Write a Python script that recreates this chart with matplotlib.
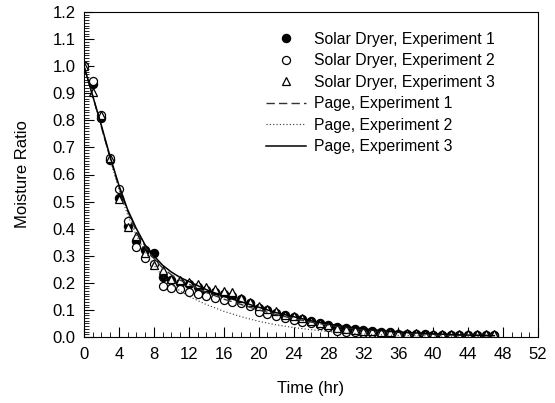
import numpy as np
import matplotlib
matplotlib.use('Agg')
import matplotlib.pyplot as plt

plt.rcParams['font.family'] = ['Liberation Sans', 'DejaVu Sans']

# measured data (hourly)
time_hr = list(range(0, 48))

mr_exp1 = [1.0, 0.935, 0.807, 0.655, 0.515, 0.41, 0.355, 0.32, 0.31, 0.223,
           0.21, 0.20, 0.195, 0.185, 0.175, 0.168, 0.16, 0.152, 0.14, 0.127,
           0.106, 0.10, 0.09, 0.082, 0.075, 0.068, 0.06, 0.052, 0.045, 0.038,
           0.033, 0.03, 0.026, 0.022, 0.02, 0.017, 0.012, 0.011, 0.010, 0.010,
           0.009, 0.009, 0.008, 0.008, 0.008, 0.007, 0.007, 0.007]

mr_exp2 = [1.0, 0.946, 0.819, 0.66, 0.545, 0.43, 0.331, 0.29, 0.27, 0.19,
           0.18, 0.177, 0.167, 0.159, 0.151, 0.143, 0.136, 0.13, 0.124, 0.114,
           0.093, 0.085, 0.078, 0.069, 0.062, 0.057, 0.05, 0.045, 0.038, 0.022,
           0.02, 0.018, 0.016, 0.014, 0.012, 0.010, 0.006, 0.005, 0.005, 0.005,
           0.005, 0.005, 0.005, 0.005, 0.005, 0.005, 0.005, 0.005]

mr_exp3 = [1.0, 0.905, 0.819, 0.66, 0.51, 0.405, 0.373, 0.31, 0.266, 0.247,
           0.216, 0.21, 0.204, 0.194, 0.186, 0.176, 0.171, 0.167, 0.143, 0.13,
           0.115, 0.105, 0.095, 0.081, 0.077, 0.07, 0.06, 0.05, 0.044, 0.035,
           0.03, 0.027, 0.024, 0.021, 0.019, 0.017, 0.014, 0.013, 0.013, 0.012,
           0.012, 0.012, 0.011, 0.011, 0.011, 0.010, 0.010, 0.010]

# Page model curves
t_fit = [0, 1, 2, 3, 4, 5, 6, 7, 8, 9, 10, 11, 12, 14, 16, 18, 20, 22, 24,
         26, 28, 30, 32, 34, 36, 38, 40, 42, 44, 46, 47]
page_exp1 = [1.0, 0.89, 0.775, 0.66, 0.555, 0.465, 0.39, 0.335, 0.29, 0.255,
             0.23, 0.21, 0.195, 0.165, 0.14, 0.12, 0.10, 0.083, 0.068, 0.055,
             0.044, 0.035, 0.028, 0.022, 0.017, 0.013, 0.010, 0.008, 0.006,
             0.005, 0.004]
page_exp2 = [1.0, 0.89, 0.775, 0.655, 0.545, 0.45, 0.375, 0.315, 0.265, 0.225,
             0.195, 0.17, 0.15, 0.12, 0.095, 0.075, 0.058, 0.045, 0.035, 0.027,
             0.020, 0.015, 0.011, 0.008, 0.006, 0.005, 0.004, 0.003, 0.002,
             0.002, 0.001]
page_exp3 = [1.0, 0.89, 0.78, 0.665, 0.56, 0.47, 0.40, 0.34, 0.30, 0.265,
             0.24, 0.22, 0.205, 0.175, 0.15, 0.13, 0.11, 0.09, 0.075, 0.06,
             0.048, 0.038, 0.03, 0.024, 0.019, 0.015, 0.012, 0.009, 0.007,
             0.006, 0.005]

fig = plt.figure(figsize=(5.55, 4.03), dpi=100)
ax = fig.add_axes([84/555, 66/403, 454/555, 325/403])

ms = 5.8
ax.plot(time_hr, mr_exp1, 'o', color='black', ms=ms, label='Solar Dryer, Experiment 1')
ax.plot(time_hr, mr_exp2, 'o', mfc='white', mec='black', mew=0.9, ms=ms,
        label='Solar Dryer, Experiment 2')
ax.plot(time_hr, mr_exp3, '^', mfc='white', mec='black', mew=0.9, ms=ms,
        label='Solar Dryer, Experiment 3')
ax.plot(t_fit, page_exp1, color='#333333', lw=1.0, ls=(0, (6, 3)), label='Page, Experiment 1')
ax.plot(t_fit, page_exp2, color='#333333', lw=0.8, ls=(0, (1, 2)), label='Page, Experiment 2')
ax.plot(t_fit, page_exp3, color='black', lw=1.1, label='Page, Experiment 3')

ax.set_xlim(0, 52)
ax.set_ylim(0, 1.2)
ax.set_xticks(np.arange(0, 53, 4))
ax.set_xticks(np.arange(0, 53, 1), minor=True)
ax.set_yticks(np.arange(0, 1.21, 0.1))
ax.set_yticks(np.arange(0, 1.201, 0.01), minor=True)
ax.set_yticklabels(['%.1f' % v for v in np.arange(0, 1.21, 0.1)])

ax.tick_params(which='both', direction='in', top=False, right=False, labelsize=12)
ax.tick_params(axis='x', which='major', length=7, pad=7)
ax.tick_params(axis='y', which='major', length=7, pad=6)
ax.tick_params(which='minor', length=3.5)

ax.set_xlabel('Time (hr)', fontsize=12, labelpad=14)
ax.set_ylabel('Moisture Ratio', fontsize=12, labelpad=16)

ax.legend(loc='upper left', bbox_to_anchor=(0.384, 0.963), frameon=False,
          fontsize=11.3, handlelength=2.55, handletextpad=0.5, labelspacing=0.41,
          borderpad=0)

fig.savefig('out.png', dpi=100)
